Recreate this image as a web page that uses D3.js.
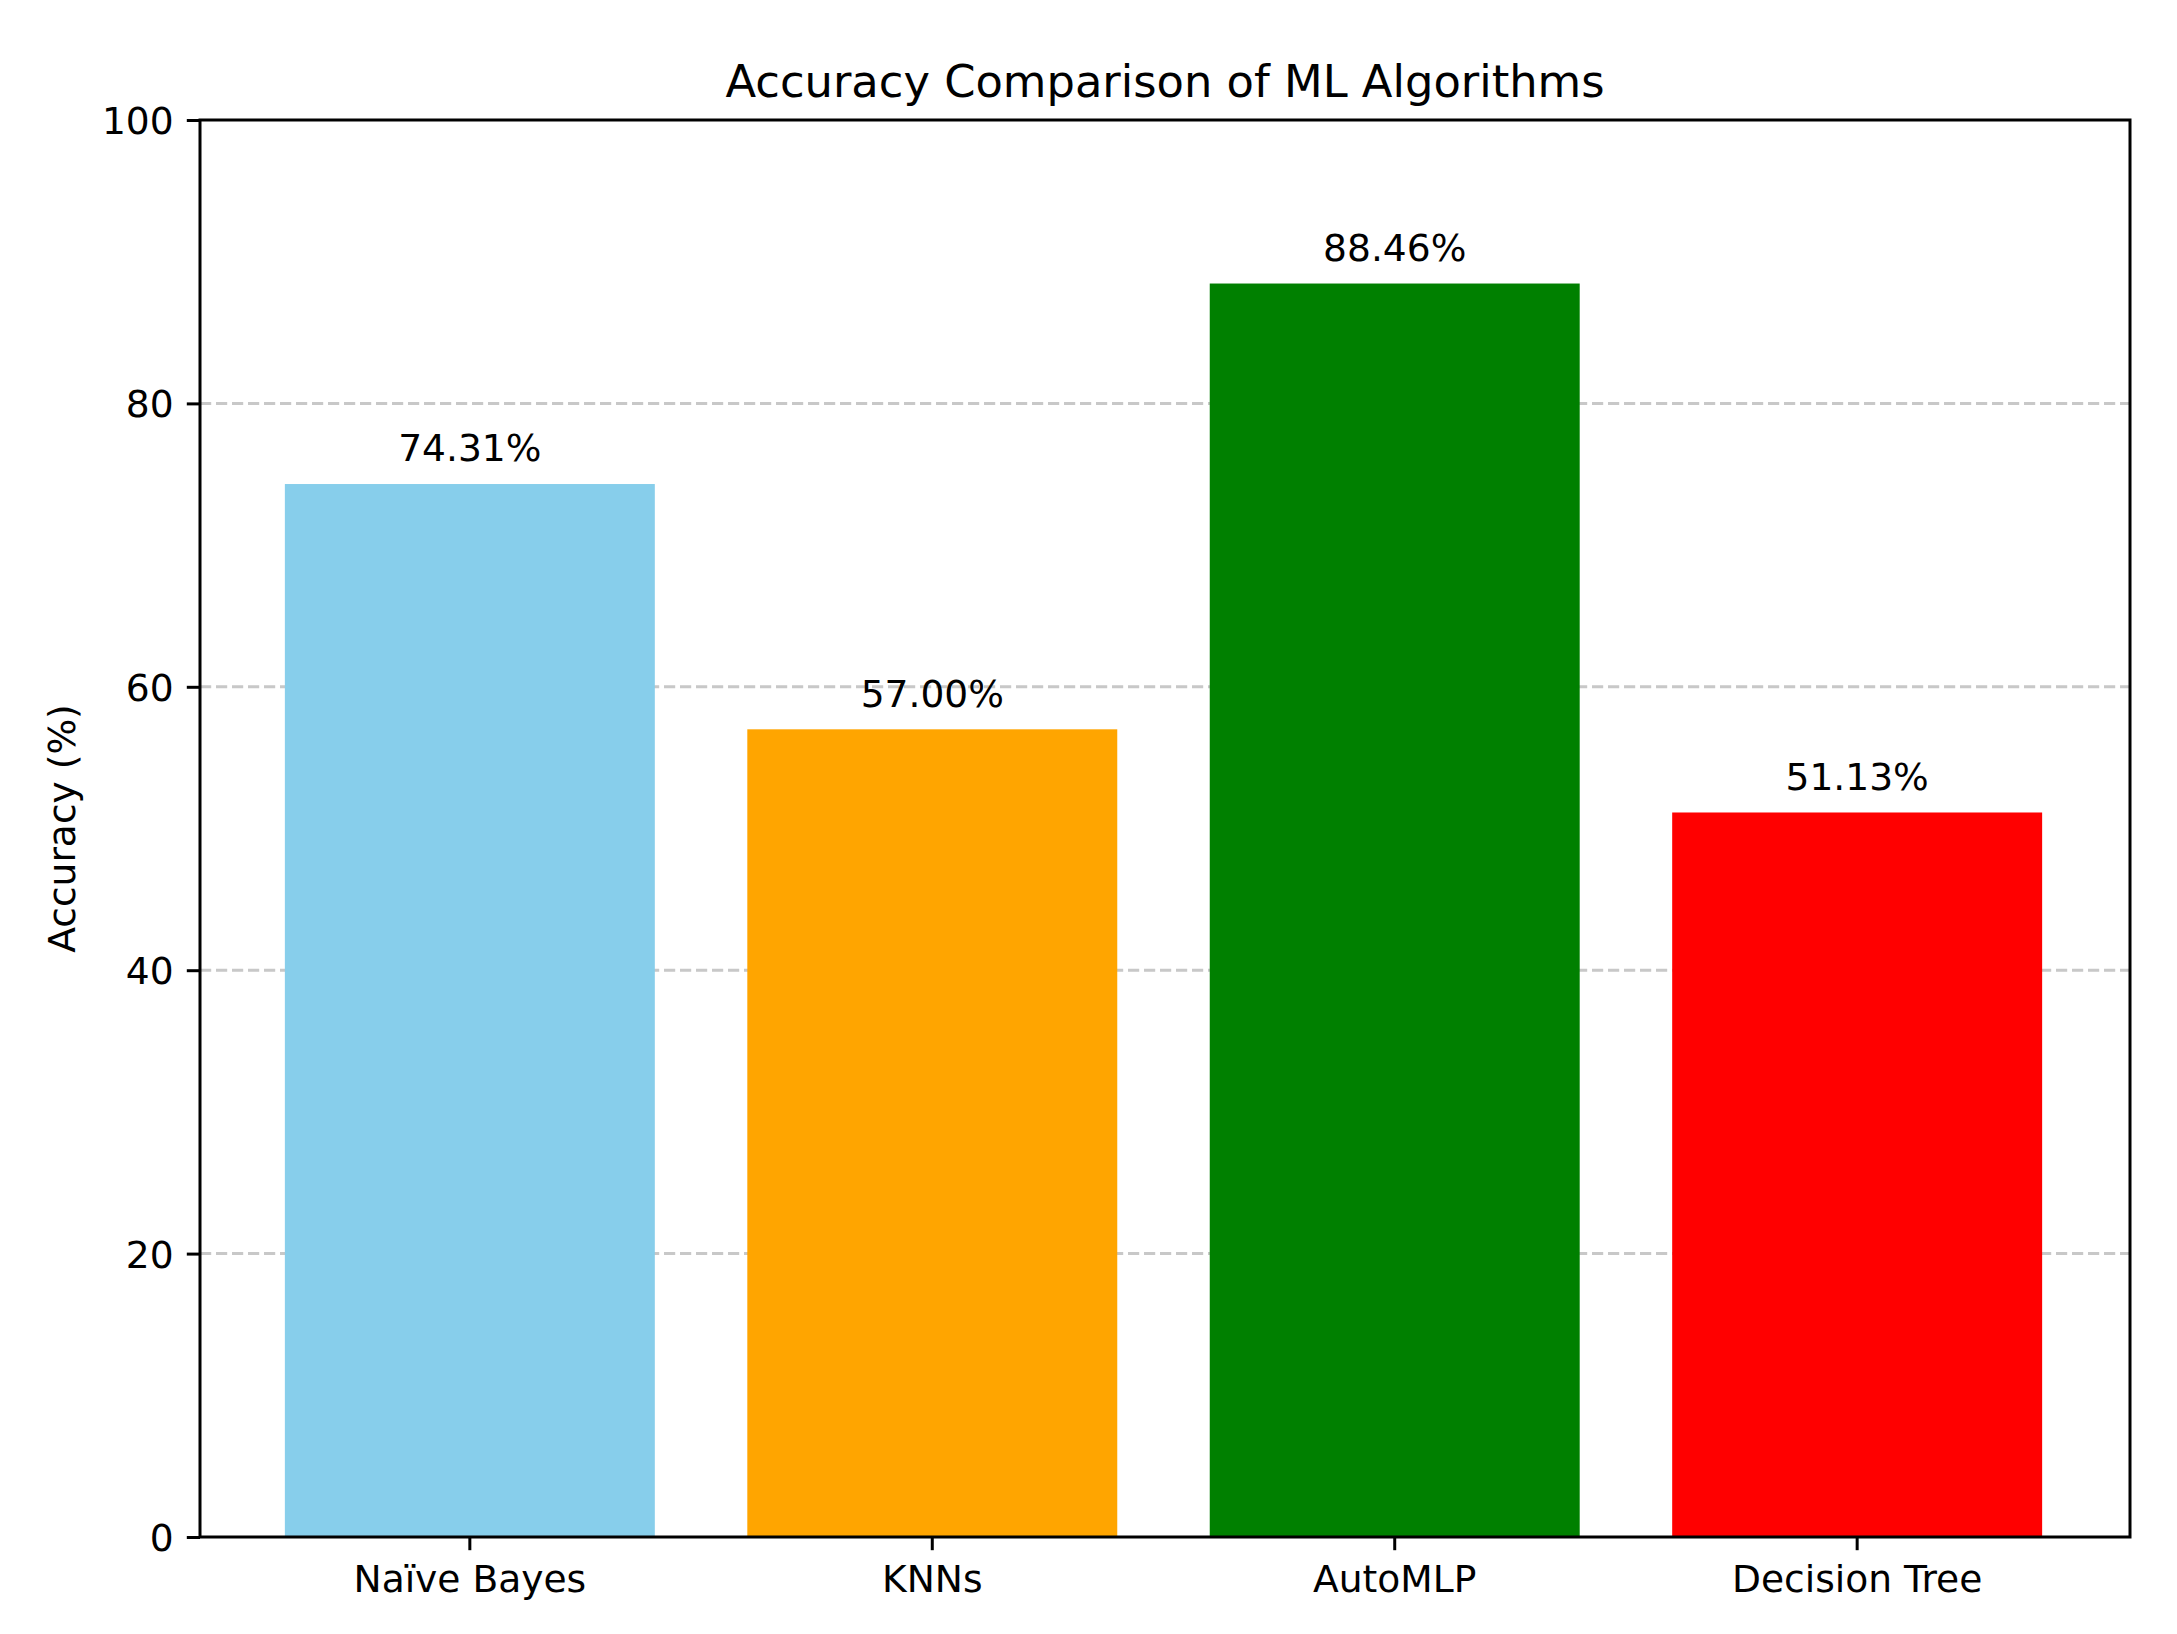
<!DOCTYPE html>
<html>
<head>
<meta charset="utf-8">
<script src="https://cdn.jsdelivr.net/npm/d3@7"></script>
<style>
  html, body { margin: 0; padding: 0; background: #fff; }
  svg { display: block; }
  text { font-family: "DejaVu Sans", sans-serif; fill: #000; }
</style>
</head>
<body>
<script>
const categories = ["Naïve Bayes", "KNNs", "AutoMLP", "Decision Tree"];
const accuracy = [74.31, 57.00, 88.46, 51.13];
const barColors = ["#87CEEB", "#FFA500", "#008000", "#FF0000"];
const yTicks = [0, 20, 40, 60, 80, 100];
const gridTicks = [20, 40, 60, 80];
const title = "Accuracy Comparison of ML Algorithms";
const yLabel = "Accuracy (%)";

const W = 2177, H = 1634;
const m = { left: 200, right: 2130, top: 120, bottom: 1537 };
const fs = 37.6;

const svg = d3.select("body").append("svg").attr("width", W).attr("height", H);

const x = d3.scaleBand().domain(categories).range([197, m.right])
  .paddingInner(0.2).paddingOuter(0.19);
const y = d3.scaleLinear().domain([0, 100]).range([m.bottom, m.top]);

// grid
svg.append("g").selectAll("line").data(gridTicks).join("line")
  .attr("x1", m.left).attr("x2", m.right)
  .attr("y1", d => y(d)).attr("y2", d => y(d))
  .attr("stroke", "#c8c8c8").attr("stroke-width", 3)
  .attr("stroke-dasharray", "11.2,4.8");

// bars
svg.append("g").selectAll("rect").data(categories).join("rect")
  .attr("x", d => x(d))
  .attr("width", x.bandwidth())
  .attr("y", (d, i) => y(accuracy[i]))
  .attr("height", (d, i) => y(0) - y(accuracy[i]))
  .attr("fill", (d, i) => barColors[i]);

// bar labels
svg.append("g").selectAll("text").data(categories).join("text")
  .attr("x", d => x(d) + x.bandwidth() / 2)
  .attr("y", (d, i) => y(accuracy[i] + 1) - 8.5)
  .attr("text-anchor", "middle")
  .attr("font-size", fs)
  .text((d, i) => accuracy[i].toFixed(2) + "%");

// axes
const xAxis = svg.append("g").attr("transform", `translate(0,${m.bottom})`)
  .call(d3.axisBottom(x).tickSize(13.2).tickPadding(13.2));
const yAxis = svg.append("g").attr("transform", `translate(${m.left},0)`)
  .call(d3.axisLeft(y).tickValues(yTicks).tickSize(13.2).tickPadding(13.2).tickFormat(d3.format("d")));
[xAxis, yAxis].forEach(g => {
  g.select(".domain").remove();
  g.selectAll(".tick line").attr("stroke", "#000").attr("stroke-width", 3);
  g.selectAll(".tick text").attr("font-size", fs).attr("font-family", "DejaVu Sans").attr("fill", "#000");
});
yAxis.selectAll(".tick text").attr("dy", "0.36em");
xAxis.selectAll(".tick text").attr("dy", "0.75em");

// spines
svg.append("rect").attr("x", m.left).attr("y", m.top)
  .attr("width", m.right - m.left).attr("height", m.bottom - m.top)
  .attr("fill", "none").attr("stroke", "#000").attr("stroke-width", 3);

// title
svg.append("text").attr("x", (m.left + m.right) / 2).attr("y", 97)
  .attr("text-anchor", "middle").attr("font-size", 44.8).text(title);

// y label
svg.append("text")
  .attr("transform", `translate(75,${(m.top + m.bottom) / 2}) rotate(-90)`)
  .attr("text-anchor", "middle").attr("font-size", fs).text(yLabel);
</script>
</body>
</html>
